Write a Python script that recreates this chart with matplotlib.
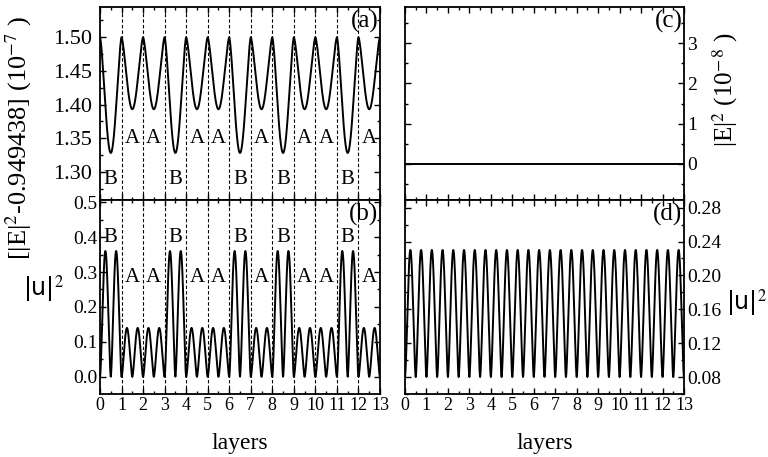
import numpy as np
import matplotlib
matplotlib.use("Agg")
import matplotlib.pyplot as plt
from matplotlib.ticker import MultipleLocator, FormatStrFormatter

plt.rcParams['font.family'] = ['Liberation Serif', 'DejaVu Serif']
plt.rcParams['mathtext.fontset'] = 'stix'

# layer sequence (one unit thick each)
layers = list("BAABAABABAABA")
# field intensity panel (a): value at interfaces and minimum inside each layer type (1e-7)
e_peak = 1.500
e_min = {'B': 1.328, 'A': 1.393}
# |u|^2 panel (b): hump height inside each layer type (two humps per layer)
u_peak = {'B': 0.36, 'A': 0.14}
# panel (c): flat |E|^2 (1e-8)
c_level = 0.0
# panel (d): periodic |u|^2, two humps per layer
d_min, d_max = 0.08, 0.23
d_humps_per_layer = 2

n = len(layers)
pts = 200
x_all, ea, ub = [], [], []
for i, lay in enumerate(layers):
    t = np.linspace(0, 1, pts)
    x_all.append(i + t)
    ea.append(e_peak - (e_peak - e_min[lay]) * np.abs(np.sin(np.pi * t)) ** 1.5)
    ub.append(u_peak[lay] * np.abs(np.sin(2 * np.pi * t)) ** 1.6)
x_all = np.concatenate(x_all)
ea = np.concatenate(ea)
ub = np.concatenate(ub)
xd = np.linspace(0, n, 4000)
ud = d_min + (d_max - d_min) * np.abs(np.sin(d_humps_per_layer * np.pi * xd)) ** 1.6

fig = plt.figure(figsize=(7.68, 4.57), dpi=100)
L1, R1 = 100 / 768, 380 / 768
L2, R2 = 405 / 768, 684 / 768
T, M, B = 1 - 7 / 457, 1 - 200 / 457, 1 - 394 / 457
ax_a = fig.add_axes([L1, M, R1 - L1, T - M])
ax_b = fig.add_axes([L1, B, R1 - L1, M - B])
ax_c = fig.add_axes([L2, M, R2 - L2, T - M])
ax_d = fig.add_axes([L2, B, R2 - L2, M - B])

for ax in (ax_a, ax_b, ax_c, ax_d):
    ax.set_xlim(0, n)
    ax.xaxis.set_major_locator(MultipleLocator(1))
    ax.xaxis.set_minor_locator(MultipleLocator(0.5))
    ax.tick_params(which='both', direction='in', top=True, bottom=True,
                   left=True, right=True, width=1.0)
    ax.tick_params(which='major', length=4)
    ax.tick_params(which='minor', length=2.5)
    for s in ax.spines.values():
        s.set_linewidth(1.3)

for ax in (ax_a, ax_c):
    ax.tick_params(labelbottom=False)
for ax in (ax_b, ax_d):
    ax.tick_params(axis='x', labelsize=13, pad=2)
    ax.set_xlabel('layers', fontsize=17, labelpad=14)

# (a)
ax_a.plot(x_all, ea, color='black', lw=1.4)
ax_a.set_ylim(1.258, 1.545)
ax_a.yaxis.set_major_locator(MultipleLocator(0.05))
ax_a.yaxis.set_minor_locator(MultipleLocator(0.025))
ax_a.yaxis.set_major_formatter(FormatStrFormatter('%.2f'))
ax_a.tick_params(axis='y', labelsize=16, pad=6)
ax_a.set_ylabel(r'[|E|$^2$-0.949438] (10$^{-7}$ )', fontsize=19)
ax_a.yaxis.set_label_coords(-0.235, 0.32)

# (b)
ax_b.plot(x_all, ub, color='black', lw=1.4)
ax_b.set_ylim(-0.049, 0.506)
ax_b.yaxis.set_major_locator(MultipleLocator(0.1))
ax_b.yaxis.set_minor_locator(MultipleLocator(0.05))
ax_b.yaxis.set_major_formatter(FormatStrFormatter('%.1f'))
ax_b.tick_params(axis='y', labelsize=14, pad=2)
ax_b.set_ylabel(r'|u|$^2$', fontsize=17, rotation=0, family='DejaVu Sans')
ax_b.yaxis.set_label_coords(-0.2, 0.46)

for ax in (ax_a, ax_b):
    for k in range(1, n):
        ax.axvline(k, color='black', lw=0.8, ls=(0, (3, 2)))

for i, lay in enumerate(layers):
    ya = 1.288 if lay == 'B' else 1.350
    yb = 0.40 if lay == 'B' else 0.283
    ax_a.text(i + 0.5, ya, lay, fontsize=15, ha='center', va='center')
    ax_b.text(i + 0.5, yb, lay, fontsize=15, ha='center', va='center')

# (c)
ax_c.plot([0, n], [c_level, c_level], color='black', lw=1.4)
ax_c.set_ylim(-0.9, 3.9)
ax_c.yaxis.set_major_locator(MultipleLocator(1))
ax_c.yaxis.set_minor_locator(MultipleLocator(0.5))
ax_c.tick_params(axis='y', labelleft=False, labelright=True, labelsize=14, pad=2)
ax_c.yaxis.set_label_position('right')
ax_c.set_ylabel(r'|E|$^2$ (10$^{-\,8}$ )', fontsize=18)
ax_c.yaxis.set_label_coords(1.095, 0.57)

# (d)
ax_d.plot(xd, ud, color='black', lw=1.4)
ax_d.set_ylim(0.06, 0.289)
ax_d.yaxis.set_major_locator(MultipleLocator(0.04))
ax_d.yaxis.set_minor_locator(MultipleLocator(0.02))
ax_d.yaxis.set_major_formatter(FormatStrFormatter('%.2f'))
ax_d.tick_params(axis='y', labelleft=False, labelright=True, labelsize=14, pad=2)
ax_d.yaxis.set_label_position('right')
ax_d.set_ylabel(r'|u|$^2$', fontsize=17, rotation=0, family='DejaVu Sans')
ax_d.yaxis.set_label_coords(1.225, 0.55)

for ax, lab in ((ax_a, '(a)'), (ax_b, '(b)'), (ax_c, '(c)'), (ax_d, '(d)')):
    ax.text(0.995, 0.985, lab, transform=ax.transAxes, fontsize=18,
            ha='right', va='top')

fig.savefig('out.png', dpi=100)
